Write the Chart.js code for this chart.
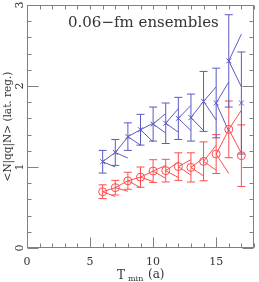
<!DOCTYPE html>
<html>
<head>
<meta charset="utf-8">
<script src="https://cdn.jsdelivr.net/npm/chart.js@4"></script>
<style>
html,body{margin:0;padding:0;background:#fff;}
canvas{display:block;}
</style>
</head>
<body>
<canvas id="c" width="259" height="282"></canvas>
<script>
// ---- data ----
const tmin = [6, 7, 8, 9, 10, 11, 12, 13, 14, 15, 16, 17];
const blueY   = [1.065, 1.18, 1.375, 1.46, 1.53, 1.54, 1.60, 1.61, 1.81, 1.79, 2.31, 1.79];
const blueErr = [0.14, 0.16, 0.17, 0.19, 0.21, 0.25, 0.26, 0.29, 0.37, 0.43, 0.57, 0.63];
const redY    = [0.695, 0.745, 0.83, 0.875, 0.95, 0.955, 1.005, 0.995, 1.07, 1.16, 1.465, 1.14];
const redErr  = [0.085, 0.09, 0.105, 0.125, 0.14, 0.14, 0.17, 0.18, 0.24, 0.24, 0.35, 0.38];
// fan lines: value reached at tmin+1 by the upper / lower line leaving each point
const blueUp = [1.18, 1.37, 1.46, 1.54, 1.66, 1.72, 1.76, 1.81, 1.99, 2.05, 2.64];
const blueDn = [1.00, 1.11, 1.27, 1.31, 1.42, 1.43, 1.45, 1.45, 1.58, 1.44, 1.99];
const redUp  = [0.745, 0.83, 0.875, 0.95, 1.02, 1.06, 1.09, 1.11, 1.27, 1.46, 1.70];
const redDn  = [0.635, 0.70, 0.745, 0.82, 0.86, 0.87, 0.90, 0.89, 0.96, 0.92, 1.17];
const xTicks = [0, 5, 10, 15];
const yTicks = [0, 1, 2, 3];
const titleText = "0.06\u2212fm ensembles";
const yTitle = "<N|qq|N> (lat. reg.)";

const BLUE = "#5a5ac4";
const RED = "#ff4d4d";
const AXIS = "#808080";
const SERIF = "'DejaVu Serif', 'Liberation Serif', serif";

function pts(ys){ return tmin.map((t,i)=>({x:t, y:ys[i]})); }

const drawPlugin = {
  id: 'custom',
  beforeDatasetsDraw(chart){
    const ctx = chart.ctx, xs = chart.scales.x, ys = chart.scales.y;
    const series = [
      {y: redY, e: redErr, up: redUp, dn: redDn, c: RED},
      {y: blueY, e: blueErr, up: blueUp, dn: blueDn, c: BLUE}
    ];
    ctx.save();
    ctx.lineWidth = 1;
    for (const s of series){
      ctx.strokeStyle = s.c;
      // fan lines
      for (let i = 0; i < s.up.length; i++){
        const x0 = xs.getPixelForValue(tmin[i]);
        const x1 = xs.getPixelForValue(tmin[i] + 1);
        const y0 = ys.getPixelForValue(s.y[i]);
        ctx.beginPath();
        ctx.moveTo(x0, y0); ctx.lineTo(x1, ys.getPixelForValue(s.up[i]));
        ctx.moveTo(x0, y0); ctx.lineTo(x1, ys.getPixelForValue(s.dn[i]));
        ctx.stroke();
      }
      // error bars
      for (let i = 0; i < tmin.length; i++){
        const x = xs.getPixelForValue(tmin[i]);
        const yt = ys.getPixelForValue(s.y[i] + s.e[i]);
        const yb = ys.getPixelForValue(s.y[i] - s.e[i]);
        ctx.beginPath();
        ctx.moveTo(x, yt); ctx.lineTo(x, yb);
        ctx.moveTo(x - 4, yt); ctx.lineTo(x + 4, yt);
        ctx.moveTo(x - 4, yb); ctx.lineTo(x + 4, yb);
        ctx.stroke();
      }
    }
    ctx.restore();
  },
  afterDraw(chart){
    const ctx = chart.ctx, xs = chart.scales.x, ys = chart.scales.y;
    const a = chart.chartArea;
    ctx.save();
    ctx.strokeStyle = AXIS;
    ctx.lineWidth = 1;
    const L = Math.round(a.left) + 0.5, R = Math.round(a.right) - 0.5;
    const T = Math.round(a.top) + 0.5, B = Math.round(a.bottom) - 0.5;
    ctx.strokeRect(L, T, R - L, B - T);
    ctx.beginPath();
    // x ticks
    for (let v = 0; v <= 18; v++){
      const x = Math.round(xs.getPixelForValue(v)) + 0.5;
      const major = v % 5 === 0;
      ctx.moveTo(x, B); ctx.lineTo(x, B - (major ? 10 : 4));
      ctx.moveTo(x, T); ctx.lineTo(x, T + 4);
    }
    // y ticks
    for (let k = 0; k <= 15; k++){
      const v = k * 0.2;
      const y = Math.round(ys.getPixelForValue(v)) + 0.5;
      const major = k % 5 === 0;
      ctx.moveTo(L, y); ctx.lineTo(L + (major ? 11 : 4), y);
      ctx.moveTo(R, y); ctx.lineTo(R - (major ? 11 : 4), y);
    }
    ctx.stroke();

    ctx.fillStyle = "#333";
    ctx.font = "11px " + SERIF;
    ctx.textAlign = "center";
    ctx.textBaseline = "middle";
    for (const v of xTicks){
      ctx.fillText(String(v), xs.getPixelForValue(v), 262);
    }
    for (const v of yTicks){
      ctx.save();
      ctx.translate(20, ys.getPixelForValue(v));
      ctx.rotate(-Math.PI / 2);
      ctx.fillText(String(v), 0, 0);
      ctx.restore();
    }
    // y title
    ctx.save();
    ctx.font = "10.5px " + SERIF;
    ctx.translate(8, (a.top + a.bottom) / 2);
    ctx.rotate(-Math.PI / 2);
    ctx.fillText(yTitle, 0, 0);
    ctx.restore();
    // x title: T_min (a)
    ctx.textAlign = "left";
    ctx.font = "12px " + SERIF;
    ctx.fillText("T", 117, 276);
    ctx.font = "8px " + SERIF;
    ctx.fillText("min", 128, 279);
    ctx.font = "12px " + SERIF;
    ctx.fillText("(a)", 148, 275);
    // in-plot title
    ctx.font = "15px " + SERIF;
    ctx.fillText(titleText, 68, 23);
    ctx.restore();
  }
};

new Chart(document.getElementById('c'), {
  type: 'scatter',
  data: {
    datasets: [
      {data: pts(redY), pointStyle: 'circle', pointRadius: 4, borderColor: RED,
       backgroundColor: 'rgba(0,0,0,0)', borderWidth: 1, showLine: false},
      {data: pts(blueY), pointStyle: 'crossRot', pointRadius: 3.5, borderColor: BLUE,
       backgroundColor: BLUE, borderWidth: 1, showLine: false}
    ]
  },
  options: {
    responsive: false,
    animation: false,
    devicePixelRatio: 1,
    layout: {padding: {left: 27, right: 2, top: 5, bottom: 34}},
    plugins: {legend: {display: false}, tooltip: {enabled: false}},
    scales: {
      x: {type: 'linear', min: 0, max: 18, display: false},
      y: {type: 'linear', min: 0, max: 3, display: false}
    }
  },
  plugins: [drawPlugin]
});
</script>
</body>
</html>
